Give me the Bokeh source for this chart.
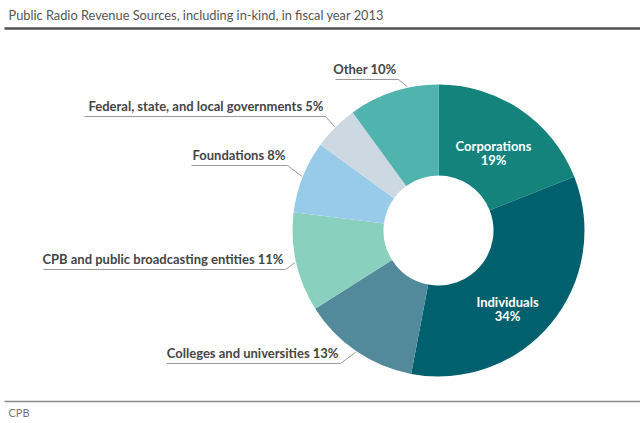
import math
from bokeh.plotting import figure
from bokeh.models import Range1d, Label
from bokeh.embed import file_html
from bokeh.resources import INLINE

# ---- data ----
categories = ["Corporations", "Individuals", "Colleges and universities",
              "CPB and public broadcasting entities", "Foundations",
              "Federal, state, and local governments", "Other"]
shares = [19, 34, 13, 11, 8, 5, 10]
colors = ["#14837b", "#00606e", "#52899b", "#8ad0bf", "#98cbea", "#cdd9e2", "#50b3ad"]
title_text = "Public Radio Revenue Sources, including in-kind, in fiscal year 2013"
source_text = "CPB"

# ---- layout (reference pixel coordinates) ----
CX, CY = 438, 230
R_OUT, R_IN = 146, 55
# outside-label layout: underline y, underline start x, elbow x, anchor fraction in slice
out_layout = {
    2: (363, 166, 340, 0.5),
    3: (269, 43, 285, 0.5),
    4: (165, 191, 287, 0.5),
    5: (116, 84, 325, 0.5),
    6: (79, 335, 398, 0.66),
}
in_layout = {0: (493, 152), 1: (507, 308)}

FONT = "Lato"
W, H = 640, 423


def Y(ry):
    return H - ry


p = figure(width=W, height=H, x_range=Range1d(0, W), y_range=Range1d(0, H),
           output_backend="svg", toolbar_location=None, x_axis_type=None, y_axis_type=None,
           min_border=0, outline_line_color=None, background_fill_color="white",
           border_fill_color="white")

total = float(sum(shares))
cum = 0.0
starts, ends = [], []
for s in shares:
    a0 = math.pi / 2 - 2 * math.pi * cum / total
    cum += s
    a1 = math.pi / 2 - 2 * math.pi * cum / total
    starts.append(a0)
    ends.append(a1)

p.annular_wedge(x=CX, y=Y(CY), inner_radius=R_IN, outer_radius=R_OUT,
                start_angle=starts, end_angle=ends, direction="clock",
                fill_color=colors, line_color=None)

for i, (lx, ly) in in_layout.items():
    for dy, txt in ((-6.5, categories[i]), (7, f"{shares[i]}%")):
        p.add_layout(Label(x=lx, y=Y(ly + dy), text=txt,
                           text_font=FONT, text_font_style="bold", text_font_size="13px",
                           text_color="white", text_align="center", text_baseline="middle"))

for i, (uy, ux0, ex, frac) in out_layout.items():
    ang = starts[i] + (ends[i] - starts[i]) * frac
    px = CX + (R_OUT + 1) * math.cos(ang)
    py = CY - (R_OUT + 1) * math.sin(ang)
    p.line(x=[ux0, ex, px], y=[Y(uy), Y(uy), Y(py)], line_color="#9a9a9a", line_width=1)
    p.add_layout(Label(x=ex - 2, y=Y(uy - 11), text=f"{categories[i]} {shares[i]}%",
                       text_font=FONT, text_font_style="bold", text_font_size="13px",
                       text_color="#454545", text_align="right", text_baseline="middle"))

p.add_layout(Label(x=8, y=Y(14), text=title_text, text_font=FONT, text_font_size="12.8px",
                   text_color="#555555", text_align="left", text_baseline="middle"))
p.line(x=[4, 640], y=[Y(28), Y(28)], line_color="#505050", line_width=2.5)
p.line(x=[4, 640], y=[Y(401), Y(401)], line_color="#8a8a8a", line_width=1.5)
p.add_layout(Label(x=8, y=Y(412), text=source_text, text_font=FONT, text_font_size="11px",
                   text_color="#777777", text_align="left", text_baseline="middle"))

open("out.html", "w").write(file_html(p, INLINE))
